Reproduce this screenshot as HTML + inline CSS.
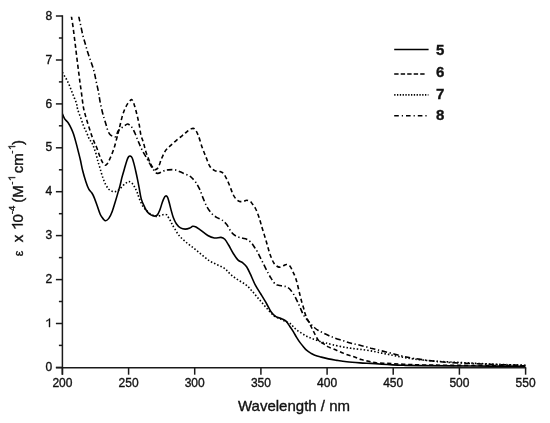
<!DOCTYPE html>
<html><head><meta charset="utf-8"><style>
html,body{margin:0;padding:0;background:#fff;}
svg{display:block;filter:grayscale(1);}
text{font-family:"Liberation Sans",sans-serif;fill:#111;stroke:#111;stroke-width:0.35px;}
.tl{font-size:12px;}
.g1{fill:#111;stroke:#111;stroke-width:0.35px;}
.ax line{stroke:#1a1a1a;stroke-width:1.5;}
.c{fill:none;stroke:#000;stroke-width:1.6;stroke-linejoin:round;}
</style></head><body>
<svg width="550" height="423" viewBox="0 0 550 423">
<rect width="550" height="423" fill="#fff"/>
<defs><clipPath id="cp"><rect x="62" y="16.8" width="470" height="360"/></clipPath></defs>
<g clip-path="url(#cp)">
<path class="c" d="M62.4,113.8 C62.8,114.7 63.7,117.4 64.7,118.9 C65.7,120.4 67.2,121.4 68.3,123.0 C69.4,124.6 70.3,126.5 71.2,128.4 C72.1,130.3 72.8,131.9 73.6,134.3 C74.4,136.7 75.3,140.1 76.0,142.6 C76.7,145.1 77.0,146.2 77.7,149.1 C78.4,152.0 79.6,156.4 80.4,160.0 C81.2,163.6 81.8,167.2 82.7,170.8 C83.6,174.4 84.8,178.4 85.8,181.5 C86.8,184.6 87.8,187.3 88.8,189.2 C89.8,191.1 91.0,191.6 91.9,193.0 C92.8,194.4 93.3,195.4 94.2,197.6 C95.1,199.8 96.3,203.3 97.3,206.1 C98.3,208.9 99.3,212.3 100.3,214.5 C101.3,216.7 102.5,218.1 103.4,219.1 C104.3,220.1 104.8,220.8 105.7,220.7 C106.6,220.6 107.8,219.8 108.8,218.4 C109.8,217.0 110.9,214.8 111.9,212.2 C112.9,209.6 114.0,205.9 114.9,203.0 C115.8,200.1 116.6,197.4 117.4,194.6 C118.2,191.8 119.0,189.3 119.8,186.4 C120.6,183.5 121.3,179.9 122.1,176.9 C122.9,173.9 123.7,171.3 124.5,168.6 C125.3,165.8 126.2,162.4 126.9,160.4 C127.6,158.4 128.1,157.5 128.6,156.8 C129.1,156.1 129.6,155.8 130.2,156.0 C130.8,156.2 131.6,156.7 132.2,158.0 C132.8,159.3 133.4,161.7 134.0,163.9 C134.6,166.1 135.1,168.4 135.7,171.0 C136.3,173.6 136.9,176.4 137.5,179.3 C138.1,182.2 138.7,185.4 139.3,188.7 C139.9,192.0 140.4,195.9 141.3,199.1 C142.2,202.3 144.0,205.7 145.0,207.8 C146.0,209.9 146.4,210.7 147.4,211.9 C148.4,213.1 149.7,214.2 150.9,214.9 C152.1,215.6 153.4,216.1 154.5,216.1 C155.6,216.1 156.5,215.9 157.4,214.9 C158.3,213.9 159.0,212.1 159.8,210.1 C160.6,208.1 161.4,205.0 162.1,203.0 C162.8,201.0 163.3,199.5 163.9,198.3 C164.5,197.1 165.1,196.2 165.7,196.0 C166.3,195.8 166.9,196.0 167.5,197.1 C168.1,198.2 168.6,200.4 169.2,202.5 C169.8,204.6 170.3,207.0 171.0,209.6 C171.7,212.2 172.5,215.5 173.4,217.8 C174.3,220.2 175.1,222.0 176.3,223.7 C177.5,225.4 179.0,227.0 180.5,227.9 C182.0,228.8 183.6,229.1 185.2,229.1 C186.8,229.1 188.7,228.4 189.9,227.9 C191.2,227.4 191.7,226.5 192.7,226.3 C193.7,226.2 194.8,226.4 196.0,227.0 C197.2,227.6 198.2,228.4 200.2,229.8 C202.2,231.2 205.4,234.1 207.8,235.5 C210.2,236.9 212.2,237.7 214.4,238.0 C216.6,238.3 219.3,237.2 221.0,237.4 C222.7,237.6 223.5,238.0 224.8,239.3 C226.1,240.6 227.2,242.6 228.6,245.0 C230.0,247.4 231.7,251.0 233.3,253.5 C234.9,256.0 236.5,258.5 238.1,260.1 C239.7,261.7 241.4,261.8 242.8,262.9 C244.2,264.0 245.3,264.8 246.6,266.7 C247.9,268.6 249.0,271.2 250.4,274.2 C251.8,277.2 253.4,281.3 255.1,284.6 C256.8,287.9 258.9,290.9 260.8,294.0 C262.7,297.1 264.8,300.5 266.5,303.5 C268.2,306.5 269.6,309.8 271.2,312.0 C272.8,314.2 274.2,315.6 275.9,316.7 C277.6,317.8 279.9,317.8 281.6,318.6 C283.3,319.4 284.9,320.0 286.3,321.4 C287.7,322.8 288.8,325.0 290.0,326.7 C291.2,328.4 292.2,329.8 293.3,331.6 C294.4,333.4 295.5,335.6 296.6,337.4 C297.7,339.2 298.8,340.9 299.9,342.4 C301.0,343.9 302.1,345.2 303.2,346.5 C304.3,347.8 305.2,349.1 306.5,350.2 C307.8,351.3 309.3,352.3 310.7,353.1 C312.1,353.9 313.2,354.6 314.8,355.2 C316.4,355.8 317.7,356.2 320.0,356.8 C322.3,357.4 325.6,358.3 328.4,358.9 C331.2,359.5 333.8,359.9 336.9,360.4 C340.0,360.9 342.9,361.4 346.8,361.8 C350.7,362.2 356.0,362.6 360.0,362.9 C364.0,363.2 367.3,363.2 370.9,363.4 C374.5,363.6 378.2,363.9 381.8,364.2 C385.4,364.4 389.1,364.7 392.7,364.9 C396.3,365.1 399.1,365.2 403.6,365.3 C408.2,365.4 412.3,365.5 420.0,365.6 C427.7,365.7 438.3,365.8 450.0,365.9 C461.7,366.0 477.4,366.1 490.0,366.1 C502.6,366.2 519.6,366.2 525.5,366.2"/>
<path class="c" d="M71.4,16.0 C71.4,16.3 71.3,15.9 71.6,17.7 C71.9,19.4 72.6,23.4 73.0,26.5 C73.4,29.6 73.8,32.8 74.2,36.0 C74.6,39.2 75.0,42.4 75.4,45.5 C75.8,48.6 76.1,51.7 76.5,54.9 C76.9,58.1 77.3,61.3 77.7,64.5 C78.1,67.7 78.5,70.8 78.9,73.9 C79.3,77.1 79.7,80.5 80.1,83.4 C80.5,86.4 80.9,88.6 81.3,91.6 C81.7,94.5 82.1,98.3 82.5,101.1 C82.9,103.9 83.1,105.9 83.6,108.3 C84.1,110.7 84.7,112.9 85.4,115.4 C86.1,118.0 87.0,121.0 87.8,123.6 C88.6,126.1 89.3,128.3 90.1,130.7 C90.9,133.1 91.7,135.6 92.5,137.8 C93.3,140.0 94.2,142.1 94.9,143.7 C95.6,145.3 95.6,144.9 96.6,147.3 C97.5,149.8 99.5,155.8 100.6,158.4 C101.7,161.0 102.2,161.9 103.0,163.0 C103.8,164.1 104.7,165.1 105.4,165.2 C106.2,165.3 106.7,164.6 107.5,163.5 C108.3,162.4 109.2,160.3 110.0,158.5 C110.8,156.7 111.7,154.8 112.5,152.5 C113.3,150.2 114.1,148.2 115.0,145.0 C115.9,141.8 117.2,136.6 118.0,133.5 C118.8,130.4 119.1,129.2 119.8,126.4 C120.5,123.6 121.3,119.7 122.1,116.9 C122.9,114.1 123.6,112.0 124.5,109.8 C125.4,107.6 126.5,105.5 127.5,103.9 C128.5,102.3 129.7,101.1 130.4,100.4 C131.2,99.7 131.4,99.1 132.0,99.7 C132.6,100.3 133.4,102.2 134.0,103.9 C134.6,105.6 135.1,107.6 135.7,109.8 C136.3,112.0 136.9,114.3 137.5,116.9 C138.1,119.5 138.7,122.2 139.3,125.2 C139.9,128.2 140.2,132.2 140.9,135.0 C141.6,137.8 142.4,139.2 143.3,142.1 C144.2,145.0 145.0,149.1 146.2,152.7 C147.4,156.2 149.2,160.8 150.4,163.4 C151.6,166.0 152.6,167.5 153.5,168.5 C154.4,169.5 155.2,169.8 156.0,169.5 C156.8,169.2 157.7,168.7 158.6,166.9 C159.5,165.1 160.4,161.3 161.6,158.6 C162.8,155.8 164.2,152.6 165.7,150.4 C167.2,148.2 168.7,147.3 170.5,145.6 C172.3,143.9 174.4,142.0 176.4,140.3 C178.4,138.6 180.7,136.9 182.3,135.6 C183.9,134.3 184.6,133.6 186.0,132.5 C187.4,131.4 189.1,129.7 190.5,129.1 C191.9,128.5 193.2,127.7 194.5,128.8 C195.8,129.9 197.0,132.3 198.3,135.5 C199.6,138.7 201.0,144.2 202.3,147.8 C203.6,151.4 204.8,154.2 206.1,157.3 C207.3,160.4 208.4,164.0 209.8,166.2 C211.2,168.4 213.0,169.7 214.7,170.6 C216.4,171.5 218.5,171.1 220.0,171.6 C221.5,172.1 222.6,172.6 223.6,173.6 C224.6,174.6 225.2,176.2 226.0,177.7 C226.8,179.2 227.5,180.7 228.3,182.5 C229.1,184.3 229.9,186.4 230.7,188.4 C231.5,190.4 232.1,192.5 233.0,194.3 C233.9,196.1 234.9,197.8 236.0,199.0 C237.1,200.2 238.3,201.0 239.6,201.4 C240.9,201.8 242.5,201.6 243.7,201.4 C244.9,201.2 245.5,200.2 246.6,200.2 C247.7,200.2 249.2,200.7 250.2,201.4 C251.2,202.1 251.7,203.1 252.6,204.3 C253.5,205.5 254.4,206.4 255.5,208.5 C256.6,210.6 257.9,214.0 258.9,217.0 C259.9,220.0 260.8,223.3 261.7,226.5 C262.6,229.7 263.7,232.8 264.6,235.9 C265.6,239.1 266.5,242.2 267.4,245.4 C268.3,248.6 269.1,251.8 270.2,254.8 C271.3,257.8 272.6,261.2 274.0,263.3 C275.4,265.4 277.2,266.7 278.8,267.1 C280.4,267.5 282.2,266.1 283.5,265.7 C284.8,265.3 285.4,264.4 286.5,264.5 C287.6,264.6 288.9,265.0 290.0,266.2 C291.1,267.4 291.9,269.8 292.9,271.8 C293.9,273.8 294.9,275.7 295.8,278.4 C296.7,281.1 297.6,285.1 298.3,288.0 C299.0,290.9 299.5,293.2 300.1,295.6 C300.7,298.0 301.2,300.0 301.8,302.1 C302.4,304.2 303.1,306.2 303.6,308.0 C304.1,309.8 304.3,311.2 304.8,312.8 C305.3,314.4 305.9,315.9 306.6,317.5 C307.3,319.1 308.1,320.6 308.9,322.2 C309.7,323.8 310.6,325.6 311.3,327.0 C312.0,328.4 312.4,329.1 313.1,330.5 C313.8,331.9 314.6,333.7 315.4,335.2 C316.2,336.7 316.9,338.2 317.8,339.4 C318.7,340.6 319.7,341.5 320.8,342.3 C321.9,343.1 323.0,343.3 324.3,344.1 C325.6,344.9 326.3,345.8 328.4,346.9 C330.5,347.9 334.1,349.2 336.9,350.4 C339.7,351.6 342.6,352.9 345.4,354.0 C348.2,355.1 351.3,355.9 353.9,356.8 C356.5,357.7 358.6,358.9 361.1,359.6 C363.6,360.4 366.1,360.8 368.7,361.3 C371.2,361.9 373.3,362.5 376.4,362.9 C379.5,363.2 383.7,363.2 387.3,363.4 C390.9,363.6 394.6,363.8 398.2,364.0 C401.8,364.2 405.5,364.4 409.1,364.5 C412.7,364.6 413.2,364.8 420.0,364.9 C426.8,365.0 438.3,365.2 450.0,365.3 C461.7,365.4 477.4,365.5 490.0,365.6 C502.6,365.7 519.6,365.8 525.5,365.8" stroke-dasharray="4.2 2.8"/>
<path class="c" d="M62.4,72.3 C62.8,73.0 63.9,74.9 64.7,76.3 C65.5,77.7 66.3,78.8 67.1,80.4 C67.9,82.0 68.7,83.8 69.5,85.7 C70.3,87.6 71.0,89.6 71.8,91.6 C72.6,93.6 73.4,95.6 74.2,97.6 C75.0,99.6 75.9,101.5 76.5,103.5 C77.1,105.5 77.0,107.1 77.7,109.5 C78.4,111.9 79.7,115.0 80.7,117.7 C81.7,120.5 82.7,123.7 83.6,126.0 C84.5,128.3 85.4,129.8 86.3,131.8 C87.2,133.8 88.0,136.2 88.7,137.8 C89.4,139.4 90.1,140.1 90.7,141.2 C91.3,142.3 92.0,143.0 92.6,144.2 C93.2,145.4 93.7,147.0 94.2,148.5 C94.7,150.0 95.3,151.3 95.8,153.0 C96.3,154.7 96.8,157.1 97.2,158.7 C97.6,160.3 97.8,160.8 98.3,162.5 C98.8,164.2 99.6,166.8 100.3,169.2 C101.0,171.6 101.7,174.3 102.6,176.9 C103.5,179.5 104.7,182.6 105.7,184.6 C106.7,186.6 107.7,188.0 108.8,189.2 C109.9,190.3 111.4,191.1 112.6,191.5 C113.8,191.9 114.7,191.8 115.7,191.5 C116.7,191.2 117.6,190.9 118.8,190.0 C120.0,189.1 121.5,187.0 122.7,185.8 C124.0,184.6 125.2,183.5 126.3,182.8 C127.4,182.1 128.2,181.5 129.2,181.6 C130.2,181.7 131.3,182.5 132.2,183.4 C133.1,184.3 133.8,185.6 134.6,187.0 C135.4,188.4 136.1,189.7 136.9,191.7 C137.7,193.7 138.4,196.6 139.5,199.1 C140.6,201.6 141.9,204.7 143.2,206.7 C144.5,208.7 146.1,210.0 147.4,211.3 C148.7,212.6 149.7,213.6 150.9,214.3 C152.1,215.1 153.6,215.4 154.6,215.8 C155.6,216.2 156.0,216.6 157.0,216.5 C158.0,216.4 159.2,215.8 160.4,215.5 C161.6,215.2 162.8,214.6 163.9,214.5 C165.0,214.4 166.1,214.3 166.9,214.9 C167.7,215.5 168.0,216.8 168.6,217.8 C169.2,218.8 169.8,219.7 170.4,220.8 C171.0,221.9 171.5,223.0 172.2,224.3 C172.9,225.6 173.4,226.6 174.6,228.5 C175.8,230.4 177.4,233.6 179.5,236.0 C181.6,238.4 184.5,240.9 187.0,243.0 C189.5,245.1 192.1,246.8 194.6,248.8 C197.1,250.8 199.6,253.0 202.1,255.0 C204.6,257.0 207.2,259.4 209.7,261.0 C212.2,262.6 214.8,263.5 217.3,264.8 C219.8,266.1 222.6,267.0 224.8,268.6 C227.0,270.2 228.3,272.4 230.5,274.3 C232.7,276.2 235.6,278.3 238.1,280.0 C240.6,281.7 243.5,282.9 245.7,284.6 C247.9,286.3 249.4,288.1 251.3,290.2 C253.2,292.2 255.1,294.7 257.0,296.9 C258.9,299.1 260.8,301.3 262.7,303.5 C264.6,305.7 266.5,308.1 268.4,310.1 C270.3,312.2 272.1,314.4 274.0,315.8 C275.9,317.2 277.8,317.7 279.7,318.6 C281.6,319.5 283.7,320.6 285.4,321.4 C287.1,322.2 288.6,322.5 290.0,323.4 C291.4,324.3 292.4,325.9 293.6,327.0 C294.8,328.1 295.7,329.2 297.1,330.3 C298.5,331.4 300.2,332.3 301.8,333.3 C303.4,334.3 305.0,335.4 306.6,336.2 C308.2,337.0 309.7,337.7 311.3,338.3 C312.9,338.9 314.4,339.4 316.0,340.0 C317.6,340.6 319.2,341.2 320.8,341.7 C322.4,342.2 323.5,342.4 325.5,342.9 C327.5,343.4 329.8,344.1 332.6,344.8 C335.5,345.5 339.5,346.3 342.6,346.9 C345.7,347.5 348.2,347.9 351.1,348.3 C354.0,348.7 356.7,348.9 360.0,349.3 C363.3,349.7 367.3,350.3 370.9,350.9 C374.5,351.5 378.2,352.4 381.8,353.1 C385.4,353.8 389.1,354.6 392.7,355.3 C396.3,356.0 400.0,356.8 403.6,357.4 C407.2,358.0 409.8,358.5 414.5,359.1 C419.2,359.7 425.9,360.4 431.8,360.9 C437.7,361.4 440.3,361.5 450.0,362.0 C459.7,362.5 477.4,363.4 490.0,364.0 C502.6,364.6 519.6,365.1 525.5,365.3" stroke-dasharray="1.5 2.0"/>
<path class="c" d="M78.7,16.0 C78.7,16.2 78.6,15.5 78.9,17.1 C79.2,18.7 80.0,22.2 80.7,25.4 C81.4,28.5 82.2,32.9 83.0,36.0 C83.8,39.1 84.6,41.5 85.4,44.3 C86.2,47.1 86.9,49.8 87.8,52.6 C88.7,55.4 89.8,58.3 90.7,60.9 C91.6,63.5 92.4,65.6 93.1,68.0 C93.8,70.4 94.3,72.5 94.9,75.1 C95.5,77.7 96.0,80.7 96.6,83.4 C97.2,86.2 97.8,88.4 98.4,91.6 C99.0,94.8 99.5,98.7 100.2,102.3 C100.9,105.9 101.9,110.2 102.6,113.0 C103.3,115.8 103.7,116.9 104.3,118.9 C104.9,120.9 105.5,122.8 106.1,124.8 C106.7,126.8 107.2,129.1 107.9,130.7 C108.6,132.3 109.2,133.6 110.0,134.5 C110.8,135.4 111.5,135.7 112.5,136.0 C113.5,136.3 114.9,137.4 115.8,136.6 C116.7,135.8 117.2,132.4 118.0,131.1 C118.8,129.8 119.4,129.5 120.4,128.7 C121.4,127.9 122.7,127.2 123.9,126.4 C125.1,125.6 126.4,124.1 127.5,124.0 C128.6,123.9 129.5,125.0 130.4,125.8 C131.3,126.6 132.0,127.4 132.8,128.7 C133.6,130.0 134.3,131.7 135.1,133.5 C135.9,135.3 136.8,137.7 137.5,139.5 C138.2,141.3 138.7,142.4 139.5,144.3 C140.3,146.2 141.4,148.7 142.5,150.9 C143.6,153.1 145.1,155.3 146.3,157.5 C147.5,159.7 148.7,161.8 149.9,163.9 C151.1,166.0 152.2,168.2 153.5,169.8 C154.8,171.4 155.8,173.2 157.5,173.4 C159.2,173.6 161.6,171.6 163.4,171.0 C165.2,170.4 166.1,170.1 168.1,169.9 C170.1,169.7 172.8,169.4 175.2,169.9 C177.6,170.4 180.1,171.9 182.3,172.8 C184.5,173.7 187.1,174.7 188.6,175.5 C190.1,176.3 190.3,176.4 191.5,177.5 C192.7,178.6 194.4,180.4 195.7,182.3 C197.0,184.2 198.2,186.2 199.5,188.9 C200.8,191.6 201.9,195.4 203.2,198.4 C204.4,201.4 205.6,204.4 207.0,206.9 C208.4,209.4 210.1,211.8 211.7,213.5 C213.3,215.2 214.8,216.2 216.5,217.3 C218.2,218.4 220.4,218.8 222.1,220.1 C223.8,221.3 225.3,222.8 226.9,224.8 C228.5,226.9 230.0,230.5 231.6,232.4 C233.2,234.3 234.6,235.2 236.3,236.2 C238.0,237.1 240.3,237.6 242.0,238.1 C243.7,238.6 245.1,238.4 246.7,239.2 C248.3,240.0 250.0,241.3 251.4,242.8 C252.8,244.3 254.3,247.0 255.2,248.4 C256.1,249.8 256.1,249.3 257.0,251.0 C257.9,252.7 259.5,256.1 260.8,258.6 C262.1,261.1 263.3,263.7 264.6,266.2 C265.9,268.7 267.3,271.7 268.4,273.7 C269.5,275.7 270.0,276.6 271.2,278.4 C272.4,280.1 274.1,283.1 275.3,284.2 C276.5,285.3 277.1,284.9 278.5,285.2 C279.9,285.5 282.4,285.9 283.8,286.2 C285.2,286.5 285.9,286.4 287.0,287.0 C288.1,287.6 289.1,288.2 290.2,289.5 C291.3,290.8 293.0,293.2 293.9,294.6 C294.8,296.0 294.9,296.4 295.5,297.6 C296.1,298.9 296.9,300.5 297.7,302.1 C298.5,303.7 299.3,305.6 300.1,307.4 C300.9,309.2 301.6,311.2 302.4,312.8 C303.2,314.4 303.9,315.6 304.8,316.9 C305.7,318.2 306.8,319.2 307.8,320.4 C308.8,321.6 309.6,322.8 310.7,324.0 C311.8,325.2 313.0,326.4 314.3,327.5 C315.6,328.6 316.9,329.6 318.4,330.5 C319.9,331.4 321.3,332.0 323.1,332.9 C324.9,333.8 327.3,335.0 329.1,335.8 C330.9,336.6 331.8,336.9 334.0,337.7 C336.2,338.5 339.8,339.6 342.6,340.5 C345.5,341.4 348.2,342.5 351.1,343.3 C354.0,344.1 356.7,344.4 360.0,345.2 C363.3,346.0 367.3,347.2 370.9,348.2 C374.5,349.1 378.2,350.0 381.8,350.9 C385.4,351.8 389.1,352.7 392.7,353.6 C396.3,354.5 400.0,355.6 403.6,356.4 C407.2,357.2 409.8,357.8 414.5,358.5 C419.2,359.2 425.9,360.2 431.8,360.9 C437.7,361.6 440.3,361.9 450.0,362.5 C459.7,363.1 477.4,363.8 490.0,364.3 C502.6,364.8 519.6,365.1 525.5,365.3" stroke-dasharray="5.5 2.6 1.3 2.6"/>
</g>
<g class="ax">
<line x1="62.4" y1="15.3" x2="62.4" y2="374.7"/>
<line x1="55.9" y1="367.7" x2="526.2" y2="367.7"/>
<line x1="55.9" y1="367.4" x2="62.4" y2="367.4"/><text x="52.3" y="371.0" text-anchor="end" class="tl">0</text><line x1="55.9" y1="323.5" x2="62.4" y2="323.5"/><path class="g1" d="M50.03,327.08 L50.03,318.49 L49.34,318.49 Q48.46,319.76 46.42,320.60 L46.42,321.56 Q48.10,320.84 48.98,320.06 L48.98,327.08 Z"/><line x1="55.9" y1="279.6" x2="62.4" y2="279.6"/><text x="52.3" y="283.2" text-anchor="end" class="tl">2</text><line x1="55.9" y1="235.6" x2="62.4" y2="235.6"/><text x="52.3" y="239.2" text-anchor="end" class="tl">3</text><line x1="55.9" y1="191.7" x2="62.4" y2="191.7"/><text x="52.3" y="195.3" text-anchor="end" class="tl">4</text><line x1="55.9" y1="147.8" x2="62.4" y2="147.8"/><text x="52.3" y="151.4" text-anchor="end" class="tl">5</text><line x1="55.9" y1="103.9" x2="62.4" y2="103.9"/><text x="52.3" y="107.5" text-anchor="end" class="tl">6</text><line x1="55.9" y1="60.0" x2="62.4" y2="60.0"/><text x="52.3" y="63.6" text-anchor="end" class="tl">7</text><line x1="55.9" y1="16.0" x2="62.4" y2="16.0"/><text x="52.3" y="19.6" text-anchor="end" class="tl">8</text><line x1="58.9" y1="345.4" x2="62.4" y2="345.4"/><line x1="58.9" y1="301.5" x2="62.4" y2="301.5"/><line x1="58.9" y1="257.6" x2="62.4" y2="257.6"/><line x1="58.9" y1="213.7" x2="62.4" y2="213.7"/><line x1="58.9" y1="169.8" x2="62.4" y2="169.8"/><line x1="58.9" y1="125.8" x2="62.4" y2="125.8"/><line x1="58.9" y1="81.9" x2="62.4" y2="81.9"/><line x1="58.9" y1="38.0" x2="62.4" y2="38.0"/><line x1="62.4" y1="367.7" x2="62.4" y2="374.7"/><text x="62.4" y="387.3" text-anchor="middle" class="tl">200</text><line x1="128.6" y1="367.7" x2="128.6" y2="374.7"/><text x="128.6" y="387.3" text-anchor="middle" class="tl">250</text><line x1="194.7" y1="367.7" x2="194.7" y2="374.7"/><text x="194.7" y="387.3" text-anchor="middle" class="tl">300</text><line x1="260.9" y1="367.7" x2="260.9" y2="374.7"/><text x="260.9" y="387.3" text-anchor="middle" class="tl">350</text><line x1="327.1" y1="367.7" x2="327.1" y2="374.7"/><text x="327.1" y="387.3" text-anchor="middle" class="tl">400</text><line x1="393.2" y1="367.7" x2="393.2" y2="374.7"/><text x="393.2" y="387.3" text-anchor="middle" class="tl">450</text><line x1="459.4" y1="367.7" x2="459.4" y2="374.7"/><text x="459.4" y="387.3" text-anchor="middle" class="tl">500</text><line x1="525.6" y1="367.7" x2="525.6" y2="374.7"/><text x="525.6" y="387.3" text-anchor="middle" class="tl">550</text>
</g>
<text x="294" y="411.3" text-anchor="middle" style="font-size:15px">Wavelength / nm</text>
<g transform="translate(22.7,257.5) rotate(-90)" style="font-size:15px"><text x="1.3" style="font-size:12.5px">&#949;</text><text x="15.2">x</text><path class="g1" d="M33.52,0.00 L33.52,-10.74 L32.65,-10.74 Q31.55,-9.15 29.00,-8.10 L29.00,-6.90 Q31.10,-7.80 32.20,-8.77 L32.20,0.00 Z"/><text x="34.94">0</text><text x="43.3" y="-7.5" style="font-size:9.5px">-4</text><text x="54.7">(M</text><text x="72.7" y="-7.5" style="font-size:9.5px">-</text><path class="g1" d="M80.24,-7.50 L80.24,-14.30 L79.69,-14.30 Q79.00,-13.29 77.38,-12.63 L77.38,-11.87 Q78.71,-12.44 79.40,-13.06 L79.40,-7.50 Z"/><text x="84.2">cm</text><text x="103.8" y="-7.5" style="font-size:9.5px">-</text><path class="g1" d="M111.34,-7.50 L111.34,-14.30 L110.79,-14.30 Q110.09,-13.29 108.48,-12.63 L108.48,-11.87 Q109.81,-12.44 110.50,-13.06 L110.50,-7.50 Z"/><text x="112.4">)</text></g>
<g class="ax">
<line x1="394.2" y1="49.5" x2="428.6" y2="49.5" style="stroke:#000;stroke-width:1.6"/>
<line x1="394.2" y1="74" x2="425" y2="74" style="stroke:#000;stroke-width:1.6" stroke-dasharray="4.4 2.1"/>
<line x1="394.2" y1="94.9" x2="428.4" y2="94.9" style="stroke:#000;stroke-width:1.6" stroke-dasharray="1.3 1.5"/>
<line x1="394.2" y1="115.8" x2="428" y2="115.8" style="stroke:#000;stroke-width:1.6" stroke-dasharray="4.6 3 1.2 3"/>
</g>
<g style="font-size:15px;font-weight:bold">
<text x="436" y="55.3">5</text>
<text x="436" y="77.3">6</text>
<text x="436" y="98.5">7</text>
<text x="436" y="120">8</text>
</g>
</svg>
</body></html>
